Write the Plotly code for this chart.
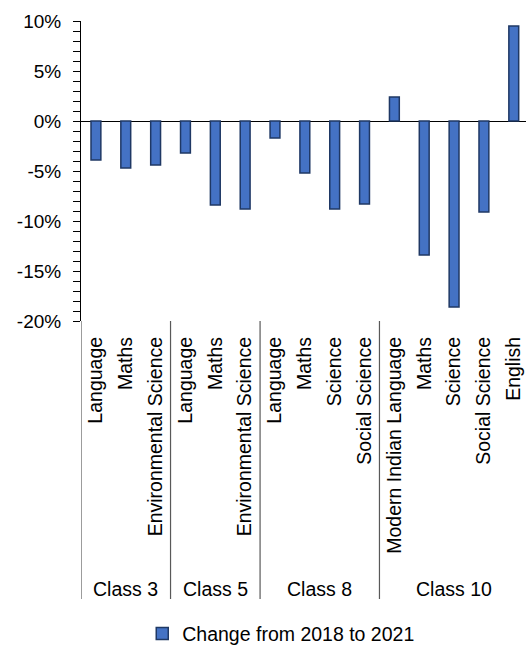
import plotly.graph_objects as go

classes = ["Class 3"] * 3 + ["Class 5"] * 3 + ["Class 8"] * 4 + ["Class 10"] * 5
subjects = [
    "Language", "Maths", "Environmental Science",
    "Language", "Maths", "Environmental Science",
    "Language", "Maths", "Science", "Social Science",
    "Modern Indian Language", "Maths", "Science", "Social Science", "English",
]
change = [-3.9, -4.7, -4.4, -3.2, -8.4, -8.8, -1.7, -5.2, -8.8, -8.3,
          2.4, -13.4, -18.6, -9.1, 9.5]
series_name = "Change from 2018 to 2021"

y_tickvals = [10, 5, 0, -5, -10, -15, -20]
y_ticktext = ["10%", "5%", "0%", "-5%", "-10%", "-15%", "-20%"]

FONT = "Liberation Sans, Arial, sans-serif"

pos = list(range(len(change)))

# group spans derived from the class list
groups = []
for i, c in enumerate(classes):
    if not groups or groups[-1][0] != c:
        groups.append([c, i, i])
    else:
        groups[-1][2] = i

# the original chart is slightly cropped on the right
x_range = [-0.5, len(change) - 0.59]

fig = go.Figure()
fig.add_trace(go.Bar(
    x=pos,
    y=change,
    name=series_name,
    width=0.33,
    marker=dict(color="#4472C4", line=dict(color="#1F3864", width=1.5)),
    showlegend=True,
))

# group labels and dividers (category-axis second level)
for name, start, end in groups:
    fig.add_annotation(x=(start + end) / 2, xref="x", y=-0.893, yref="paper",
                       text=name, showarrow=False, yanchor="middle",
                       font=dict(size=19.5, color="black"))
bounds = [g[1] - 0.5 for g in groups] + [groups[-1][2] + 0.5]
for b in bounds:
    if b <= x_range[1]:
        fig.add_shape(type="line", xref="x", yref="paper", x0=b, x1=b, y0=0, y1=-0.927,
                      line=dict(color="#595959", width=1.2))

fig.update_layout(
    width=526, height=648,
    margin=dict(l=81, r=0, t=21, b=327, autoexpand=False),
    paper_bgcolor="white", plot_bgcolor="white",
    font=dict(family=FONT, size=19, color="black"),
    showlegend=True,
    legend=dict(orientation="h", x=0.45, xanchor="center", y=-1.043, yanchor="middle",
                font=dict(size=19.5), itemwidth=30),
    xaxis=dict(
        tickmode="array",
        tickvals=pos,
        ticktext=subjects,
        tickangle=-90,
        showline=False,
        zeroline=False,
        ticks="",
        showgrid=False,
        range=x_range,
        tickfont=dict(size=19.5),
        ticklabelstandoff=11,
    ),
    yaxis=dict(
        range=[-20, 10],
        tickmode="array",
        tickvals=y_tickvals,
        ticktext=y_ticktext,
        showline=True, linecolor="black", linewidth=1,
        ticks="outside", ticklen=7, tickcolor="black",
        minor=dict(dtick=1, ticks="outside", ticklen=7, tickcolor="black"),
        showgrid=False,
        zeroline=True, zerolinecolor="black", zerolinewidth=1,
        tickfont=dict(size=19),
        ticklabelstandoff=8,
    ),
)

fig.write_html("out.html")
